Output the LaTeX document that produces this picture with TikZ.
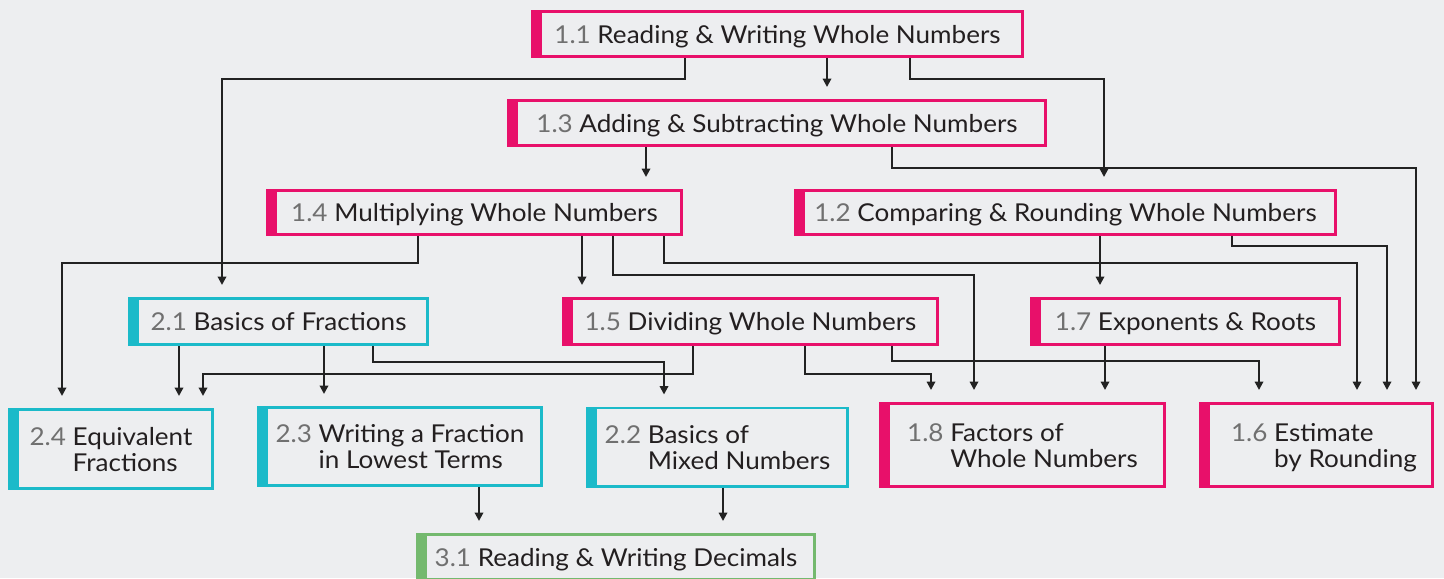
\documentclass[tikz,border=0pt]{standalone}
\usepackage{fontspec}
\setmainfont{Lato}[FakeStretch=1.06]
\usetikzlibrary{arrows.meta}
\definecolor{bg}{HTML}{EDEEF0}
\definecolor{pk}{HTML}{E8106A}
\definecolor{cy}{HTML}{1BBAC9}
\definecolor{gr}{HTML}{74B96E}
\definecolor{ng}{HTML}{707070}
\definecolor{tx}{HTML}{231F20}
\definecolor{ln}{HTML}{222222}
\newcommand\nm[1]{\textcolor{ng}{#1}}
\newcommand\onel[1]{\raisebox{-4.5pt}[0pt][0pt]{#1}}
\newcommand\twol[3]{\raisebox{-11pt}[0pt][0pt]{\begin{tabular}[b]{@{}l@{\ }l@{}}\nm{#1} & #2\\ & #3\end{tabular}}}
\tikzset{
 box/.style={draw=#1, line width=1.3pt, fill=bg, text=tx,
   font=\fontsize{12.3}{12.8}\selectfont, inner sep=0pt,
   path picture={\fill[#1] (path picture bounding box.north west) rectangle ([xshift=5pt]path picture bounding box.south west);}},
 arr/.style={draw=ln, line width=1pt, -{Triangle[width=4.2pt,length=4.2pt]}, shorten >=6pt},
}
\begin{document}
\begin{tikzpicture}[x=0.5pt,y=-0.5pt]
\fill[bg] (0,0) rectangle (1444,578);
\useasboundingbox (0,0) rectangle (1444,578);

\node[box=pk, minimum width=245.2pt, minimum height=22.7pt] (n11) at (777.5,34) {\onel{\nm{1.1} Reading \& Writing Whole Numbers}};
\node[box=pk, minimum width=268.7pt, minimum height=22.7pt] (n13) at (777,123) {\onel{\nm{1.3} Adding \& Subtracting Whole Numbers}};
\node[box=pk, minimum width=207.2pt, minimum height=22.2pt] (n14) at (474.5,212.5) {\onel{\nm{1.4} Multiplying Whole Numbers}};
\node[box=pk, minimum width=270.2pt, minimum height=22.2pt] (n12) at (1065.5,212.5) {\onel{\nm{1.2} Comparing \& Rounding Whole Numbers}};
\node[box=cy, minimum width=149.2pt, minimum height=23.2pt] (n21) at (278.5,321.5) {\onel{\nm{2.1} Basics of Fractions}};
\node[box=pk, minimum width=187.2pt, minimum height=23.2pt] (n15) at (750.5,321.5) {\onel{\nm{1.5} Dividing Whole Numbers}};
\node[box=pk, minimum width=154.2pt, minimum height=23.2pt] (n17) at (1185.5,321.5) {\onel{\nm{1.7} Exponents \& Roots}};
\node[box=cy, minimum width=101.7pt, minimum height=39.7pt] (n24) at (111,449) {\twol{2.4}{Equivalent}{Fractions}};
\node[box=cy, minimum width=141.7pt, minimum height=39.2pt] (n23) at (400,446.5) {\twol{2.3}{Writing a Fraction}{in Lowest Terms}};
\node[box=cy, minimum width=130.2pt, minimum height=39.2pt] (n22) at (717.5,447) {\twol{2.2}{Basics of}{Mixed Numbers}};
\node[box=pk, minimum width=142.2pt, minimum height=41.7pt] (n18) at (1022.5,445) {\twol{1.8}{Factors of}{Whole Numbers}};
\node[box=pk, minimum width=116.2pt, minimum height=41.7pt] (n16) at (1316,445) {\hspace{8pt}\twol{1.6}{Estimate}{by Rounding}};
\node[box=gr, minimum width=198.7pt, minimum height=22.7pt] (n31) at (616,557) {\onel{\nm{3.1} Reading \& Writing Decimals}};

\draw[arr] (827,0 |- n11.south) -- (827,0 |- n13.north);
\draw[arr] (685,0 |- n11.south) -- (685,79) -| (222,0 |- n21.north);
\draw[arr] (910,0 |- n11.south) -- (910,79) -| (1104,0 |- n12.north);
\draw[arr] (646,0 |- n13.south) -- (646,0 |- n14.north);
\draw[arr] (892,0 |- n13.south) -- (892,168) -| (1416,0 |- n16.north);
\draw[arr] (418,0 |- n14.south) -- (418,263) -| (62,0 |- n24.north);
\draw[arr] (582,0 |- n14.south) -- (582,0 |- n15.north);
\draw[arr] (613,0 |- n14.south) -- (613,275) -| (974,0 |- n18.north);
\draw[arr] (664,0 |- n14.south) -- (664,263) -| (1357,0 |- n16.north);
\draw[arr] (1100,0 |- n12.south) -- (1100,0 |- n17.north);
\draw[arr] (1232,0 |- n12.south) -- (1232,246) -| (1387,0 |- n16.north);
\draw[arr] (179,0 |- n21.south) -- (179,0 |- n24.north);
\draw[arr] (324,0 |- n21.south) -- (324,0 |- n23.north);
\draw[arr] (373,0 |- n21.south) -- (373,362) -| (664,0 |- n22.north);
\draw[arr] (693,0 |- n15.south) -- (693,374) -| (203,0 |- n24.north);
\draw[arr] (805,0 |- n15.south) -- (805,374) -| (931,0 |- n18.north);
\draw[arr] (892,0 |- n15.south) -- (892,361) -| (1259,0 |- n16.north);
\draw[arr] (1105,0 |- n17.south) -- (1105,0 |- n18.north);
\draw[arr] (479,0 |- n23.south) -- (479,0 |- n31.north);
\draw[arr] (723,0 |- n22.south) -- (723,0 |- n31.north);
\end{tikzpicture}
\end{document}
